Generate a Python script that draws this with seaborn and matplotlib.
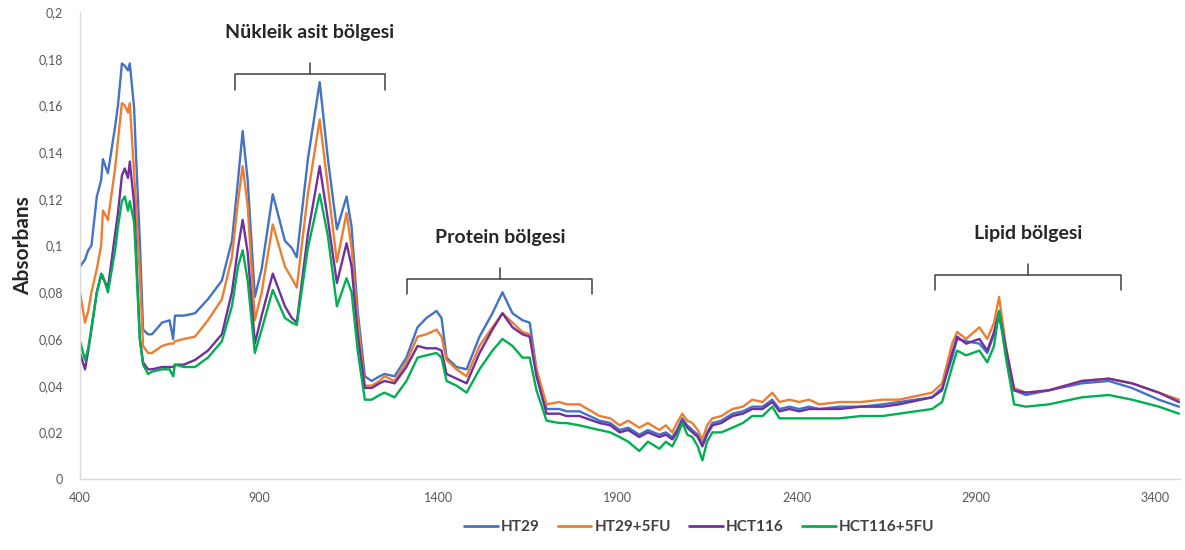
import numpy as np
import pandas as pd
import matplotlib
matplotlib.use('Agg')
import matplotlib.pyplot as plt
import seaborn as sns

# Wavenumbers (cm-1)
wavenumber = [400, 414, 423, 432, 447, 459, 464, 478, 498, 506, 517, 525, 534, 539, 551, 556,
              567, 576, 590, 601, 629, 650, 660, 665, 690, 721, 757, 796, 824, 841, 854, 868,
              888, 907, 938, 972, 991, 1005, 1036, 1069, 1092, 1117, 1144, 1158, 1175, 1195,
              1214, 1236, 1250, 1278, 1311, 1342, 1367, 1395, 1409, 1423, 1451, 1479, 1515,
              1551, 1579, 1607, 1635, 1655, 1674, 1702, 1738, 1758, 1794,
              1850, 1880, 1906, 1930, 1961, 1985, 2017, 2035, 2053, 2066, 2081, 2095, 2109,
              2124, 2137, 2150, 2165, 2190, 2221, 2250, 2276, 2305, 2332, 2352, 2380, 2407,
              2435, 2463, 2520, 2580, 2640, 2686,
              2778, 2806, 2834, 2848, 2873, 2910, 2932, 2951, 2965, 2984, 3007, 3040, 3104,
              3196, 3271, 3336, 3411, 3467]

ht29 = [.091, .094, .098, .100, .121, .128, .137, .131, .151, .160, .178, .177, .175, .178, .159, .140,
        .102, .064, .062, .062, .067, .068, .060, .070, .070, .071, .077, .085, .102, .128, .149, .128,
        .078, .090, .122, .102, .099, .095, .137, .170, .137, .107, .121, .108, .072, .044,
        .042, .044, .045, .044, .052, .065, .069, .072, .069, .052, .048, .047, .061,
        .071, .080, .071, .068, .067, .047, .030, .030, .029, .029,
        .025, .024, .021, .022, .019, .021, .019, .020, .018, .021, .026, .023, .021,
        .019, .015, .020, .024, .025, .028, .029, .031, .031, .034, .030, .031, .030,
        .031, .030, .031, .031, .032, .033,
        .035, .039, .052, .060, .059, .058, .054, .062, .070, .055, .038, .036, .038,
        .041, .042, .039, .034, .031]

ht29_5fu = [.080, .067, .072, .080, .090, .100, .115, .111, .133, .145, .161, .160, .157, .161, .131, .118,
            .088, .057, .054, .054, .057, .058, .058, .059, .060, .061, .068, .077, .095, .119, .134, .117,
            .068, .080, .109, .091, .086, .082, .122, .154, .125, .093, .114, .099, .068, .040,
            .040, .042, .044, .042, .050, .061, .062, .064, .061, .051, .047, .044, .057,
            .065, .071, .067, .063, .062, .047, .032, .033, .032, .032,
            .027, .026, .023, .025, .022, .024, .021, .023, .020, .024, .028, .025, .024,
            .021, .017, .023, .026, .027, .030, .031, .034, .033, .037, .033, .034, .033,
            .034, .032, .033, .033, .034, .034,
            .037, .041, .058, .063, .060, .065, .060, .067, .078, .057, .039, .037, .038,
            .042, .043, .041, .037, .034]

hct116 = [.054, .047, .055, .064, .080, .087, .086, .082, .105, .114, .130, .133, .129, .136, .118, .100,
          .060, .050, .047, .047, .048, .048, .048, .049, .049, .051, .055, .062, .080, .099, .111, .097,
          .058, .070, .088, .074, .069, .067, .105, .134, .111, .084, .101, .091, .062, .039,
          .039, .041, .042, .041, .048, .057, .056, .056, .055, .045, .043, .041, .054,
          .064, .071, .065, .062, .061, .044, .028, .028, .027, .027,
          .024, .023, .020, .021, .018, .020, .018, .019, .017, .020, .025, .022, .020,
          .018, .014, .019, .023, .024, .027, .028, .030, .030, .033, .029, .030, .029,
          .030, .030, .030, .031, .031, .032,
          .035, .038, .054, .061, .058, .060, .055, .063, .072, .056, .038, .037, .038,
          .042, .043, .041, .037, .033]

hct116_5fu = [.059, .051, .056, .065, .080, .088, .087, .080, .098, .108, .119, .121, .115, .119, .110, .095,
              .060, .049, .045, .046, .047, .047, .044, .049, .048, .048, .052, .059, .074, .091, .098, .085,
              .054, .064, .081, .069, .067, .066, .099, .122, .104, .074, .086, .080, .055, .034,
              .034, .036, .037, .035, .042, .052, .053, .054, .052, .042, .040, .037, .047,
              .055, .060, .057, .052, .052, .038, .025, .024, .024, .023,
              .021, .020, .018, .016, .012, .016, .013, .016, .014, .018, .024, .019, .018,
              .014, .008, .016, .020, .020, .022, .024, .027, .027, .031, .026, .026, .026,
              .026, .026, .026, .027, .027, .028,
              .030, .033, .048, .055, .053, .055, .050, .057, .072, .052, .032, .031, .032,
              .035, .036, .034, .031, .028]

series_names = ['HT29', 'HT29+5FU', 'HCT116', 'HCT116+5FU']
series_colors = ['#4472C4', '#ED7D31', '#7030A0', '#00B050']

# Region annotations: (label, left, right)
regions = [('Nükleik asit bölgesi', 832, 1250),
           ('Protein bölgesi', 1314, 1830),
           ('Lipid bölgesi', 2787, 3305)]
region_levels = [0.1733, 0.0856, 0.0873]

df = pd.concat([
    pd.DataFrame({'wavenumber': wavenumber, 'absorbance': vals, 'sample': name})
    for name, vals in zip(series_names, [ht29, ht29_5fu, hct116, hct116_5fu])
])

sns.set_style('white')
plt.rcParams['font.family'] = ['Lato', 'DejaVu Sans']

fig = plt.figure(figsize=(11.85, 5.5), dpi=100)
ax = fig.add_axes([0.0675, 0.129, 0.9283, 0.849])

sns.lineplot(data=df, x='wavenumber', y='absorbance', hue='sample',
             palette=dict(zip(series_names, series_colors)), estimator=None,
             sort=False, linewidth=1.7, ax=ax, legend=False)

# brackets with labels
for (label, left, right), level in zip(regions, region_levels):
    mid = (left + right) / 2
    drop = 0.0065
    ax.plot([left, left, right, right], [level - drop, level, level, level - drop],
            color='#404040', lw=1.1, solid_joinstyle='round')
    ax.plot([mid, mid], [level, level + 0.005], color='#404040', lw=1.1)
    ax.text(mid, level + 0.018, label, ha='center', va='center',
            fontsize=14, fontweight='bold', color='#262626')

ax.set_xlim(400, 3470)
ax.set_ylim(0, 0.2)
xticks = [400, 900, 1400, 1900, 2400, 2900, 3400]
ax.set_xticks(xticks)
ax.set_xticklabels([str(t) for t in xticks])
yticks = np.round(np.arange(0, 0.201, 0.02), 2)
ax.set_yticks(yticks)
ax.set_yticklabels([f'{t:g}'.replace('.', ',') for t in yticks])
ax.tick_params(axis='both', length=0, labelsize=9, labelcolor='#595959')
ax.tick_params(axis='y', pad=12)
ax.tick_params(axis='x', pad=9)

ax.set_xlabel('')
ax.set_ylabel('Absorbans', fontsize=15, fontweight='bold', color='#262626', labelpad=4)

for side in ['top', 'right']:
    ax.spines[side].set_visible(False)
for side in ['left', 'bottom']:
    ax.spines[side].set_color('#D9D9D9')
    ax.spines[side].set_linewidth(1)

handles = [plt.Line2D([], [], color=c, lw=2) for c in series_colors]
leg = fig.legend(handles, series_names, loc='center', bbox_to_anchor=(0.59, 0.042),
                 ncol=4, frameon=False, handlelength=2.2, handletextpad=0.2,
                 columnspacing=1.2, prop={'weight': 'bold', 'size': 11})
for t in leg.get_texts():
    t.set_color('#404040')

fig.savefig('out.png', dpi=100)
